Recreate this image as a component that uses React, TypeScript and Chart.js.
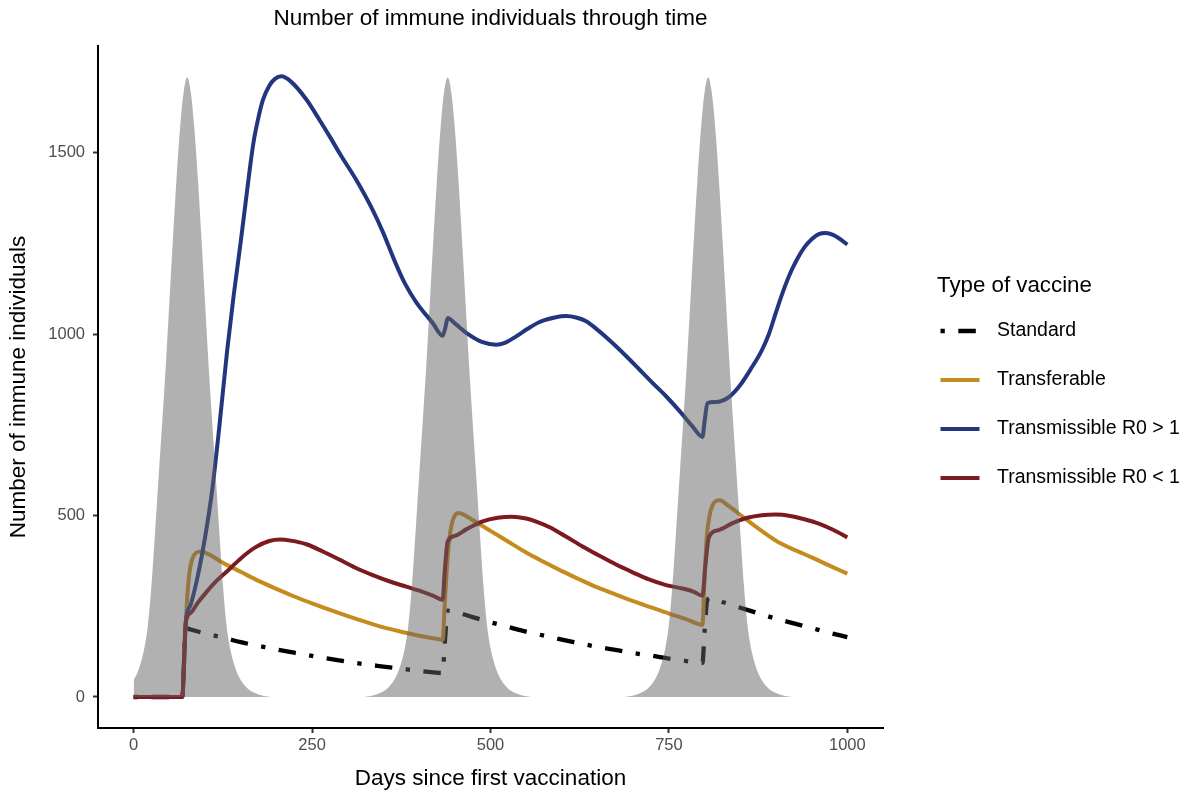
import React, { useEffect, useRef } from "react";
import { Chart, registerables } from "chart.js";

Chart.register(...registerables);

const FONT = '"Liberation Sans", Arial, Helvetica, sans-serif';

const TITLE = "Number of immune individuals through time";
const X_TITLE = "Days since first vaccination";
const Y_TITLE = "Number of immune individuals";
const LEGEND_TITLE = "Type of vaccine";
const SERIES_NAMES = ["Standard", "Transferable", "Transmissible R0 > 1", "Transmissible R0 < 1"];
const X_TICKS = [0, 250, 500, 750, 1000];
const Y_TICKS = [0, 500, 1000, 1500];

// grey background area (epidemic seasons)
const GRAY_DAYS = [
  0, 5, 10, 15, 20, 25, 30, 35, 40, 45, 50, 55, 60, 65, 70, 75, 80, 85, 90, 95,
  100, 105, 110, 115, 120, 125, 130, 135, 140, 145, 150, 155, 160, 165, 170, 175, 180, 185, 190, 195,
  320, 325, 330, 335, 340, 345, 350, 355, 360, 365, 370, 375, 380, 385, 390, 395, 400, 405, 410, 415,
  420, 425, 430, 435, 440, 445, 450, 455, 460, 465, 470, 475, 480, 485, 490, 495, 500, 505, 510, 515,
  520, 525, 530, 535, 540, 545, 550, 555, 560,
  685, 690, 695, 700, 705, 710, 715, 720, 725, 730, 735, 740, 745, 750, 755, 760, 765, 770, 775, 780,
  785, 790, 795, 800, 805, 810, 815, 820, 825, 830, 835, 840, 845, 850, 855, 860, 865, 870, 875, 880,
  885, 890, 895, 900, 905, 910, 915, 920, 925,
  1000,
];
const GRAY_VALUES = [
  47, 66, 95, 135, 200, 310, 455, 608, 758, 913, 1088, 1263, 1428, 1568, 1668, 1708, 1668, 1568, 1428, 1263,
  1088, 913, 758, 608, 455, 310, 200, 135, 95, 66, 47, 33, 23, 16, 11, 7, 4, 2, 0.7, 0,
  0, 0.7, 2, 4, 7, 11, 16, 23, 33, 47, 66, 95, 135, 200, 310, 455, 608, 758, 913, 1088,
  1263, 1428, 1568, 1668, 1708, 1668, 1568, 1428, 1263, 1088, 913, 758, 608, 455, 310, 200, 135, 95, 66, 47,
  33, 23, 16, 11, 7, 4, 2, 0.7, 0,
  0, 0.7, 2, 4, 7, 11, 16, 23, 33, 47, 66, 95, 135, 200, 310, 455, 608, 758, 913, 1088,
  1263, 1428, 1568, 1668, 1708, 1668, 1568, 1428, 1263, 1088, 913, 758, 608, 455, 310, 200, 135, 95, 66, 47,
  33, 23, 16, 11, 7, 4, 2, 0.7, 0,
  0,
];

const STANDARD_DAYS = [
  0, 68, 73, 80, 100, 125, 150, 175, 200, 225, 250, 275, 300, 325, 350, 375, 400, 420, 433, 436, 440,
  450, 475, 500, 525, 550, 575, 600, 625, 650, 675, 700, 725, 750, 775, 797, 800, 804,
  810, 825, 850, 875, 900, 925, 950, 975, 1000,
];
const STANDARD_VALUES = [
  0, 0, 190, 186, 175, 164, 151, 141, 131, 122, 113, 105, 97, 90, 84, 78, 72, 68, 66, 150, 238,
  235, 220, 206, 193, 180, 169, 158, 148, 138, 130, 121, 114, 106, 99, 94, 180, 268,
  273, 262, 246, 231, 216, 203, 190, 177, 165,
];

const TRANSFERABLE_DAYS = [
  0, 68, 73, 76, 79, 83, 88, 94, 100, 110, 125, 150, 175, 200, 225, 250, 275, 300, 325, 350, 375, 400,
  420, 433, 436, 439, 442, 446, 450, 455, 460, 475, 500, 525, 550, 575, 600, 625, 650, 675, 700, 725,
  750, 775, 797, 800, 803, 807, 811, 816, 822, 830, 845, 860, 880, 905, 930, 950, 975, 1000,
];
const TRANSFERABLE_VALUES = [
  0, 0, 205, 300, 355, 385, 398, 401, 398, 388, 370, 345, 320, 298, 277, 258, 240, 223, 207, 192, 180, 169,
  162, 158, 260, 360, 430, 480, 500, 507, 505, 488, 458, 428, 398, 372, 347, 324, 302, 283, 264, 247,
  230, 214, 199, 330, 440, 500, 528, 540, 542, 532, 510, 487, 458, 425, 402, 385, 362, 340,
];

const R0_ABOVE_DAYS = [
  0, 68, 73, 80, 90, 100, 110, 120, 131, 140, 150, 157, 163, 168, 174, 181, 190, 198, 207, 220,
  242, 260, 275, 290, 312, 335, 350, 365, 380, 396, 419, 433, 437, 440, 450, 466, 489, 508, 520, 536,
  552, 568, 590, 606, 620, 634, 650, 671, 690, 709, 727, 746, 765, 783, 797, 800, 804, 815, 825, 835,
  850, 865, 880, 890, 900, 910, 920, 930, 940, 950, 960, 970, 980, 990, 1000,
];
const R0_ABOVE_VALUES = [
  0, 0, 205, 255, 335, 440, 570, 745, 955, 1105, 1255, 1365, 1460, 1530, 1590, 1645, 1685, 1704, 1711, 1697,
  1647, 1592, 1544, 1494, 1425, 1342, 1278, 1205, 1140, 1088, 1031, 996, 1020, 1045, 1030, 1004, 978, 971, 976, 994,
  1015, 1033, 1046, 1050, 1046, 1036, 1012, 976, 940, 902, 866, 829, 788, 746, 717, 760, 810, 813, 817, 828,
  860, 905, 955, 1000, 1060, 1118, 1168, 1208, 1240, 1262, 1276, 1279, 1274, 1262, 1247,
];

const R0_BELOW_DAYS = [
  0, 68, 73, 80, 90, 101, 115, 134, 150, 171, 190, 205, 220, 242, 265, 288, 310, 335, 358, 382, 405, 420,
  433, 436, 440, 450, 466, 489, 510, 530, 550, 565, 583, 605, 629, 652, 676, 700, 722, 745, 769, 785,
  797, 801, 806, 820, 840, 860, 880, 900, 920, 940, 960, 980, 1000,
];
const R0_BELOW_VALUES = [
  0, 0, 205, 232, 260, 287, 318, 352, 382, 413, 430, 434, 431, 421, 401, 379, 357, 336, 319, 304, 290, 279,
  268, 350, 429, 444, 462, 484, 494, 497, 492, 483, 468, 443, 415, 390, 365, 343, 324, 309, 299, 290,
  279, 360, 440, 460, 480, 494, 501, 503, 499, 490, 478, 461, 440,
];

const toPoints = (xs: number[], ys: number[]) => xs.map((x, i) => ({ x, y: ys[i] }));

const LEGEND_BOX = {
  titleX: 937,
  titleBaseline: 291.5,
  sampleX0: 940.5,
  sampleX1: 979.5,
  textX: 997,
  firstY: 331,
  rowGap: 49,
};

const ggLegend = {
  id: "ggLegend",
  afterDraw(chart: any) {
    const ctx = chart.ctx as CanvasRenderingContext2D;
    ctx.save();
    ctx.fillStyle = "#000000";
    ctx.textAlign = "left";
    ctx.textBaseline = "alphabetic";
    ctx.font = `22.3px ${FONT}`;
    ctx.fillText(LEGEND_TITLE, LEGEND_BOX.titleX, LEGEND_BOX.titleBaseline);
    SERIES_NAMES.forEach((name, i) => {
      const ds = chart.data.datasets.find((d: any) => d.label === name);
      if (!ds) return;
      const y = LEGEND_BOX.firstY + i * LEGEND_BOX.rowGap;
      ctx.save();
      ctx.strokeStyle = ds.borderColor;
      ctx.lineWidth = ds.borderWidth;
      ctx.lineCap = "butt";
      ctx.setLineDash(ds.borderDash || []);
      ctx.beginPath();
      ctx.moveTo(LEGEND_BOX.sampleX0, y);
      ctx.lineTo(LEGEND_BOX.sampleX1, y);
      ctx.stroke();
      ctx.restore();
      ctx.font = `19.5px ${FONT}`;
      ctx.fillStyle = "#000000";
      ctx.textBaseline = "middle";
      ctx.fillText(name, LEGEND_BOX.textX, y);
    });
    ctx.restore();
  },
};

export default function App() {
  const canvasRef = useRef<HTMLCanvasElement | null>(null);

  useEffect(() => {
    if (!canvasRef.current) return;
    Chart.defaults.font.family = FONT;

    const lineBase = {
      fill: false,
      pointRadius: 0,
      pointHoverRadius: 0,
      cubicInterpolationMode: "monotone" as const,
      borderCapStyle: "butt" as const,
      borderJoinStyle: "round" as const,
    };

    const chart = new Chart(canvasRef.current, {
      type: "line",
      data: {
        datasets: [
          {
            label: "Season",
            data: toPoints(GRAY_DAYS, GRAY_VALUES),
            fill: "origin",
            backgroundColor: "rgba(99,99,99,0.5)",
            borderColor: "rgba(0,0,0,0)",
            borderWidth: 0,
            pointRadius: 0,
            cubicInterpolationMode: "monotone",
            order: 0,
          },
          {
            ...lineBase,
            label: SERIES_NAMES[0],
            data: toPoints(STANDARD_DAYS, STANDARD_VALUES),
            borderColor: "#000000",
            borderWidth: 4.3,
            borderDash: [4.3, 13.5, 17.5, 13.5],
            order: 4,
          },
          {
            ...lineBase,
            label: SERIES_NAMES[1],
            data: toPoints(TRANSFERABLE_DAYS, TRANSFERABLE_VALUES),
            borderColor: "#C68B1E",
            borderWidth: 4,
            order: 3,
          },
          {
            ...lineBase,
            label: SERIES_NAMES[2],
            data: toPoints(R0_ABOVE_DAYS, R0_ABOVE_VALUES),
            borderColor: "#22367F",
            borderWidth: 4,
            order: 2,
          },
          {
            ...lineBase,
            label: SERIES_NAMES[3],
            data: toPoints(R0_BELOW_DAYS, R0_BELOW_VALUES),
            borderColor: "#7C1A21",
            borderWidth: 4,
            order: 1,
          },
        ],
      } as any,
      options: {
        responsive: false,
        animation: false,
        events: [],
        layout: { padding: { left: 0, right: 307, top: 0, bottom: 0 } },
        plugins: {
          legend: { display: false },
          tooltip: { enabled: false },
          title: {
            display: true,
            text: TITLE,
            fullSize: false,
            color: "#000000",
            font: { size: 22.5, weight: "normal", family: FONT },
            padding: { top: 5.5, bottom: 13.5 },
          },
        },
        scales: {
          x: {
            type: "linear",
            min: -50,
            max: 1050,
            afterBuildTicks: (s: any) => {
              s.ticks = X_TICKS.map((v) => ({ value: v }));
            },
            afterFit: (s: any) => {
              s.height = 66;
            },
            grid: {
              display: true,
              drawOnChartArea: false,
              drawTicks: true,
              tickLength: 5,
              tickColor: "#333333",
              tickWidth: 2,
            },
            border: { display: true, color: "#000000", width: 2 },
            ticks: {
              color: "#4D4D4D",
              font: { size: 16.5, family: FONT },
              padding: 3,
              maxRotation: 0,
              callback: (v: any) => String(v),
            },
            title: {
              display: true,
              text: X_TITLE,
              color: "#000000",
              font: { size: 22.5, family: FONT },
              padding: { top: 0, bottom: 1.5 },
            },
          },
          y: {
            type: "linear",
            min: -85.5,
            max: 1794.5,
            afterBuildTicks: (s: any) => {
              s.ticks = Y_TICKS.map((v) => ({ value: v }));
            },
            afterFit: (s: any) => {
              s.width = 98;
            },
            grid: {
              display: true,
              drawOnChartArea: false,
              drawTicks: true,
              tickLength: 5,
              tickColor: "#333333",
              tickWidth: 2,
            },
            border: { display: true, color: "#000000", width: 2 },
            ticks: {
              color: "#4D4D4D",
              font: { size: 16.5, family: FONT },
              padding: 8,
              callback: (v: any) => String(v),
            },
            title: {
              display: true,
              text: Y_TITLE,
              color: "#000000",
              font: { size: 22.5, family: FONT },
              padding: { top: 5.5, bottom: 0 },
            },
          },
        },
      } as any,
      plugins: [ggLegend],
    });

    return () => chart.destroy();
  }, []);

  return (
    <div style={{ position: "fixed", left: 0, top: 0, width: 1190, height: 794, background: "#ffffff" }}>
      <canvas ref={canvasRef} width={1190} height={794} style={{ width: 1190, height: 794, display: "block" }} />
    </div>
  );
}
